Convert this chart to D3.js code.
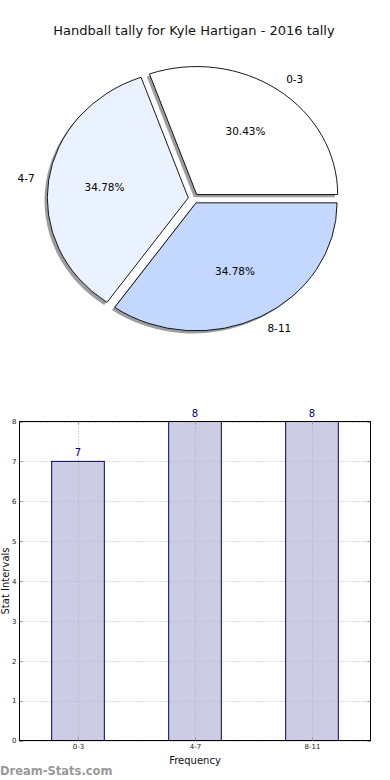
<!DOCTYPE html>
<html><head><meta charset="utf-8">
<script src="https://cdn.jsdelivr.net/npm/d3@7/dist/d3.min.js"></script>
<style>body{margin:0;background:#fff}svg{display:block;font-family:"DejaVu Sans",sans-serif}</style>
</head><body>
<svg id="c" width="390" height="780"></svg>
<script>
const title = "Handball tally for Kyle Hartigan - 2016 tally";
const categories = ["0-3", "4-7", "8-11"];
const values = [7, 8, 8];
const pieColors = ["#ffffff", "#ebf2ff", "#c4d8ff"];
const yTicks = [0,1,2,3,4,5,6,7,8];
const xLabel = "Frequency";
const yLabel = "Stat Intervals";
const watermark = "Dream-Stats.com";

const svg = d3.select("#c");
svg.append("rect").attr("width",390).attr("height",780).attr("fill","#fff");

svg.append("text").attr("x",194).attr("y",35).attr("text-anchor","middle")
  .attr("font-size",13).attr("fill","#111").text(title);

// ---- Pie ----
const cx = 193.6, cy = 198.5, rx = 141, ry = 128, explode = 0.038;
const total = d3.sum(values);
const pie = d3.pie().sort(null).startAngle(Math.PI/2).endAngle(Math.PI/2 - 2*Math.PI);
const arcs = pie(values);
const arcGen = d3.arc().innerRadius(0).outerRadius(1);
const pg = svg.append("g");
arcs.forEach((a,i)=>{
  const m = (a.startAngle + a.endAngle)/2;
  const ox = cx + explode*rx*Math.sin(m), oy = cy - explode*ry*Math.cos(m);
  pg.append("path").attr("d", arcGen(a))
    .attr("transform",`translate(${ox-2.8},${oy+2.6}) scale(${rx},${ry})`)
    .attr("fill","#8c8c8c").attr("opacity",0.85);
});
arcs.forEach((a,i)=>{
  const m = (a.startAngle + a.endAngle)/2;
  const ox = cx + explode*rx*Math.sin(m), oy = cy - explode*ry*Math.cos(m);
  pg.append("path").attr("d", arcGen(a))
    .attr("transform",`translate(${ox},${oy}) scale(${rx},${ry})`)
    .attr("fill",pieColors[i]).attr("stroke","#000").attr("stroke-width",0.9)
    .attr("vector-effect","non-scaling-stroke").attr("stroke-linejoin","miter");
  const sx = Math.sin(m), sy = -Math.cos(m);
  const lx = ox + 1.1*rx*sx, ly = oy + 1.1*ry*sy;
  pg.append("text").attr("x",lx).attr("y",ly).attr("dy","0.35em")
    .attr("text-anchor", sx>0 ? "start" : "end").attr("font-size",10.5).attr("fill","#000")
    .text(categories[i]);
  const px = ox + 0.6*rx*sx, py = oy + 0.6*ry*sy;
  pg.append("text").attr("x",px).attr("y",py).attr("dy","0.35em")
    .attr("text-anchor","middle").attr("font-size",10.5).attr("fill","#000")
    .text((values[i]/total*100).toFixed(2)+"%");
});

// ---- Bar chart ----
const L = 19.5, R = 370.5, T = 421.5, B = 740.5;
const x = d3.scaleLinear().domain([-0.5, 2.5]).range([L, R]);
const y = d3.scaleLinear().domain([0, 8]).range([B, T]);
const bw = 0.45;
const bg = svg.append("g");
bg.selectAll("rect.bar").data(values).join("rect").attr("class","bar")
  .attr("x",(d,i)=>x(i-bw/2)).attr("width",(d,i)=>x(i+bw/2)-x(i-bw/2))
  .attr("y",d=>y(d)).attr("height",d=>y(0)-y(d))
  .attr("fill","#cccce5").attr("stroke","none");
bg.selectAll("line.hg").data(yTicks).join("line").attr("class","hg")
  .attr("x1",L).attr("x2",R).attr("y1",d=>Math.round(y(d))+0.5).attr("y2",d=>Math.round(y(d))+0.5)
  .attr("stroke","#b8b8b8").attr("stroke-dasharray","1,2");
bg.selectAll("line.vg").data(categories).join("line").attr("class","vg")
  .attr("y1",T).attr("y2",B).attr("x1",(d,i)=>Math.round(x(i))+0.5).attr("x2",(d,i)=>Math.round(x(i))+0.5)
  .attr("stroke","#b0b0b0").attr("stroke-dasharray","1,2");
bg.selectAll("rect.barline").data(values).join("rect").attr("class","barline")
  .attr("x",(d,i)=>x(i-bw/2)).attr("width",(d,i)=>x(i+bw/2)-x(i-bw/2))
  .attr("y",d=>y(d)).attr("height",d=>y(0)-y(d))
  .attr("fill","none").attr("stroke","#000080").attr("stroke-width",1);
bg.append("rect").attr("x",L).attr("y",T).attr("width",R-L).attr("height",B-T)
  .attr("fill","none").attr("stroke","#000").attr("stroke-width",1);
const yAxis = d3.axisLeft(y).tickValues(yTicks).tickSize(0).tickPadding(3).tickFormat(d3.format("d"));
const ya = bg.append("g").attr("transform",`translate(${L},0)`).call(yAxis);
ya.select(".domain").remove();
ya.selectAll("text").attr("font-size",7).attr("fill","#222").attr("font-family","DejaVu Sans");
yTicks.forEach(t=>{
  const yy = Math.round(y(t))+0.5;
  bg.append("line").attr("x1",L).attr("x2",L+3).attr("y1",yy).attr("y2",yy).attr("stroke","#999");
  bg.append("line").attr("x1",R-3).attr("x2",R).attr("y1",yy).attr("y2",yy).attr("stroke","#999");
});
const xAxis = d3.axisBottom(x).tickValues([0,1,2]).tickSize(0).tickPadding(4).tickFormat(i=>categories[i]);
const xa = bg.append("g").attr("transform",`translate(0,${B})`).call(xAxis);
xa.select(".domain").remove();
xa.selectAll("text").attr("font-size",7).attr("fill","#222").attr("font-family","DejaVu Sans");
[0,1,2].forEach(i=>{
  const xx = Math.round(x(i))+0.5;
  bg.append("line").attr("x1",xx).attr("x2",xx).attr("y1",B-3).attr("y2",B).attr("stroke","#999");
  bg.append("line").attr("x1",xx).attr("x2",xx).attr("y1",T).attr("y2",T+3).attr("stroke","#999");
});
bg.selectAll("text.val").data(values).join("text").attr("class","val")
  .attr("x",(d,i)=>x(i)).attr("y",d=>y(d)-5).attr("text-anchor","middle")
  .attr("font-size",10).attr("fill","#00008b").text(d=>d);
bg.append("text").attr("x",x(1)).attr("y",764).attr("text-anchor","middle")
  .attr("font-size",10).attr("fill","#111").text(xLabel);
bg.append("text").attr("transform",`translate(9,${(T+B)/2}) rotate(-90)`).attr("text-anchor","middle")
  .attr("font-size",10).attr("fill","#111").text(yLabel);
svg.append("text").attr("x",0).attr("y",775).attr("font-size",11.5).attr("fill","#999")
  .attr("font-weight","600").text(watermark);
</script>
</body></html>
